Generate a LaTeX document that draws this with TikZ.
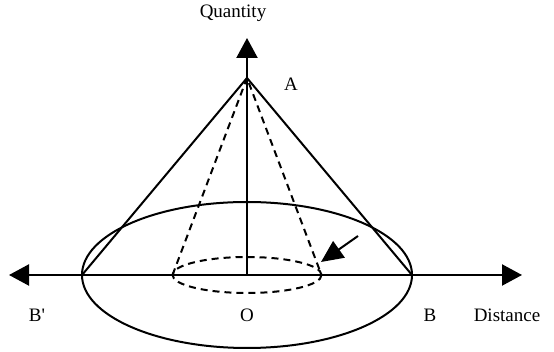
\documentclass[tikz,border=0pt]{standalone}
\usepackage{fontspec}
\setmainfont{Liberation Serif}[Ligatures=TeXOff]
\usetikzlibrary{arrows.meta}
\begin{document}
\begin{tikzpicture}[x=1pt,y=1pt,
  axisline/.style={line width=2.2pt,-{Triangle[length=20pt,width=21pt]}},
  coneline/.style={line width=2pt},
  dashline/.style={line width=2pt,dash pattern=on 7pt off 5pt},
  lbl/.style={font=\fontsize{19}{22}\selectfont,anchor=base,inner sep=0pt}]
\useasboundingbox (0,0) rectangle (554,352);
\coordinate (O) at (247,77);
\coordinate (A) at (247,274);
\coordinate (top) at (247,314);
\coordinate (lefttip) at (9,77);
\coordinate (righttip) at (522,77);
\coordinate (Bp) at (82,77);
\coordinate (B) at (412,77);
\coordinate (sl) at (172.5,77);
\coordinate (sr) at (321.5,77);
\coordinate (tail) at (358,116);
\coordinate (tip) at (321,90);
% axes
\draw[axisline] (O) -- (lefttip);
\draw[axisline] (O) -- (righttip);
\draw[axisline] (O) -- (top);
% big ellipse
\draw[coneline] (O) ellipse [x radius=165, y radius=73];
% small dashed ellipse
\draw[dashline] (O) ellipse [x radius=74.5, y radius=18];
% cone
\draw[coneline] (Bp) -- (A) -- (B);
\draw[dashline] (sl) -- (A) -- (sr);
% pointer arrow
\draw[line width=2pt,-{Triangle[length=22pt,width=20pt]}] (tail) -- (tip);
% labels
\node[lbl] (lq) at (233,334) {Quantity};
\node[lbl] (la) at (291,261) {A};
\node[lbl] (lbp) at (37,30) {B'};
\node[lbl] (lo) at (247,30) {O};
\node[lbl] (lb) at (430,30) {B};
\node[lbl] (ld) at (507,30) {Distance};
\end{tikzpicture}
\end{document}
